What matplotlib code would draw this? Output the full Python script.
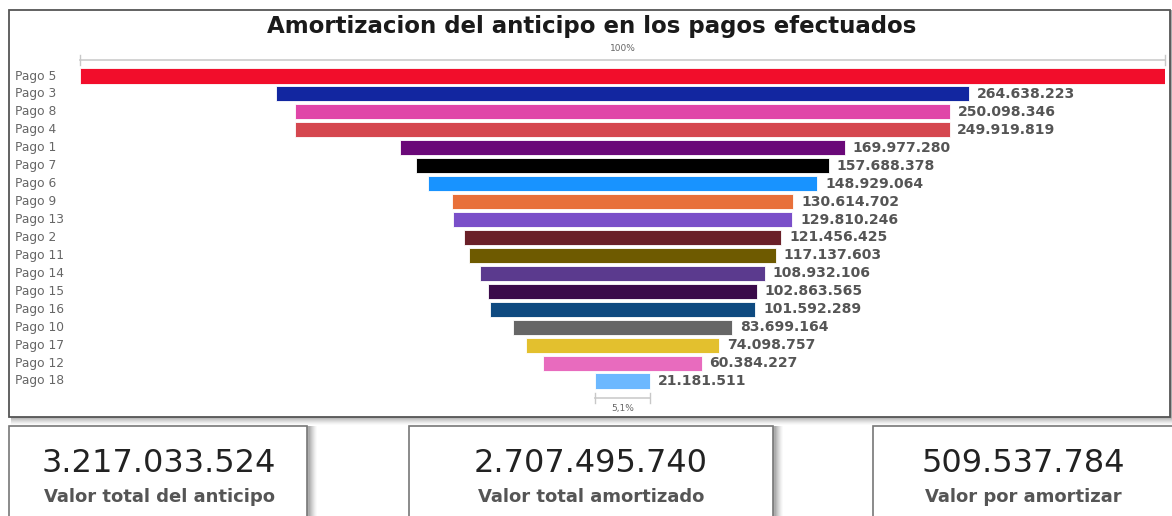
import matplotlib
matplotlib.use("Agg")
import matplotlib.pyplot as plt
from matplotlib.patches import Rectangle
from matplotlib.transforms import blended_transform_factory
import numpy as np

plt.rcParams['font.family'] = ['DejaVu Sans']

# ---------------- data ----------------
categories = ["Pago 5", "Pago 3", "Pago 8", "Pago 4", "Pago 1", "Pago 7", "Pago 6",
              "Pago 9", "Pago 13", "Pago 2", "Pago 11", "Pago 14", "Pago 15",
              "Pago 16", "Pago 10", "Pago 17", "Pago 12", "Pago 18"]
values = [414474035, 264638223, 250098346, 249919819, 169977280, 157688378,
          148929064, 130614702, 129810246, 121456425, 117137603, 108932106,
          102863565, 101592289, 83699164, 74098757, 60384227, 21181511]
colors = ["#F20D2B", "#1226A0", "#E045A8", "#D5474F", "#6A0878", "#000000",
          "#1893FF", "#E8703A", "#7A4FC9", "#6A2028", "#6E5A00", "#5B3A8E",
          "#3A0A4A", "#0E4A80", "#666666", "#E3C02E", "#E86BBE", "#6CB8FF"]
title = "Amortizacion del anticipo en los pagos efectuados"
kpi_values = ["3.217.033.524", "2.707.495.740", "509.537.784"]
kpi_labels = ["Valor total del anticipo", "Valor total amortizado", "Valor por amortizar"]

W, H = 1172, 516
fig = plt.figure(figsize=(W / 100, H / 100), dpi=100)
fig.patch.set_facecolor("white")


def fx(x):
    return x / W


def fy(y):
    return 1 - y / H


def fmt(v):
    return f"{v:,.0f}".replace(",", ".")


def shadow_box(x0, y0, x1, y1, edge="#6a6a6a", lw=1.2):
    for k, a in zip(range(8, 0, -1), np.linspace(0.02, 0.07, 8)):
        fig.add_artist(Rectangle((fx(x0 + 2), fy(y1 + k)), fx(x1 - x0 + k), fy(y0) - fy(y1 + k),
                                 transform=fig.transFigure, facecolor="black", alpha=a,
                                 edgecolor="none", zorder=0))
    fig.add_artist(Rectangle((fx(x0), fy(y1)), fx(x1 - x0), fy(y0) - fy(y1),
                             transform=fig.transFigure, facecolor="white",
                             edgecolor=edge, linewidth=lw, zorder=1))


# panel
shadow_box(9, 10, 1170, 417, edge="#555555", lw=1.3)

# funnel axes
n = len(values)
row = 17.94
top_px = 76 - row / 2
ax_left, ax_right = 80, 1165
ax = fig.add_axes([fx(ax_left), fy(top_px + n * row), fx(ax_right - ax_left), n * row / H])
ax.set_zorder(5)
ax.patch.set_alpha(0)
vmax = max(values)
ypos = np.arange(n)
ax.barh(ypos, values, left=[-v / 2 for v in values], height=0.84, color=colors,
        edgecolor="white", linewidth=0.6)
ax.set_xlim(-vmax / 2, vmax / 2)
ax.set_ylim(n - 0.5, -0.5)
ax.axis("off")

label_tr = blended_transform_factory(fig.transFigure, ax.transData)
for i, (c, v) in enumerate(zip(categories, values)):
    ax.text(fx(15), i, c, transform=label_tr, ha="left", va="center", fontsize=8.8,
            color="#666666", clip_on=False)
    if v < vmax:
        ax.annotate(fmt(v), (v / 2, i), xytext=(5.5, 0), textcoords="offset points",
                    ha="left", va="center", fontsize=10.1, fontweight="bold", color="#555555",
                    annotation_clip=False)

# brackets
y_top = -0.5 - (top_px - 60) / row
y_bot = n - 0.5 + (398 - (top_px + n * row)) / row
tick = 0.3
for (w, yb, lab, dy) in [(vmax, y_top, "100%", -0.65), (values[-1], y_bot, "5,1%", 0.6)]:
    ax.plot([-w / 2, w / 2], [yb, yb], color="#d0d0d0", lw=1.3, clip_on=False)
    for s in (-1, 1):
        ax.plot([s * w / 2, s * w / 2], [yb - tick, yb + tick], color="#c8c8c8", lw=1, clip_on=False)
    ax.text(0, yb + dy, lab, ha="center", va="center", fontsize=6.5, color="#666666", clip_on=False)

fig.text(fx(592), fy(27), title, ha="center", va="center", fontsize=16.5, fontweight="bold",
         color="#1a1a1a", zorder=10)

# KPI cards
cards = [(9, 307), (409, 773), (873, 1180)]
centers = [159, 591, 1023]
for (x0, x1), cx, val, lab in zip(cards, centers, kpi_values, kpi_labels):
    shadow_box(x0, 426, x1, 530, edge="#777777", lw=1.2)
    fig.text(fx(cx), fy(464), val, ha="center", va="center", fontsize=23, color="#222222", zorder=10)
    fig.text(fx(cx), fy(497), lab, ha="center", va="center", fontsize=13, fontweight="bold",
             color="#555555", zorder=10)

fig.savefig("out.png", dpi=100, facecolor="white")
